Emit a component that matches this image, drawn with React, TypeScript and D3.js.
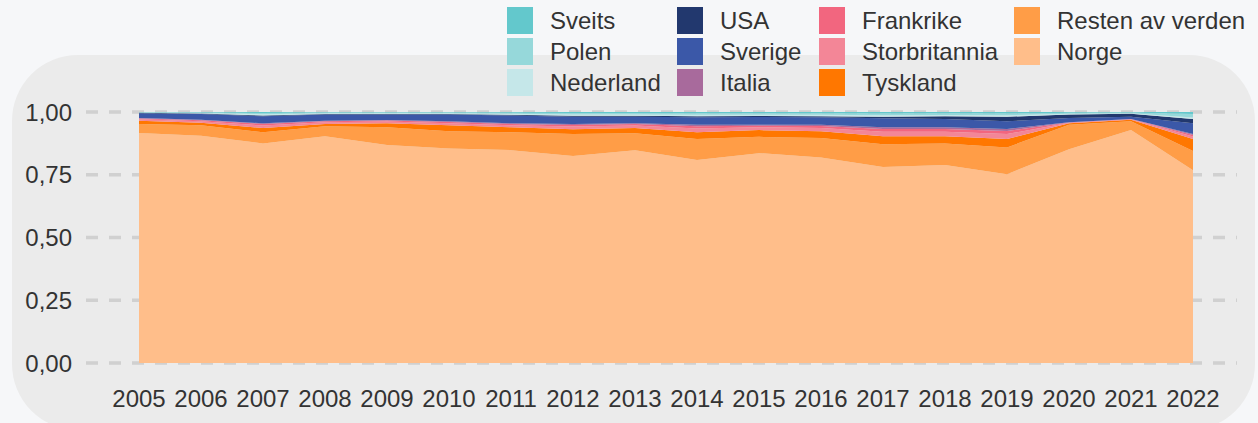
import React, { useRef, useEffect } from 'react';
import * as d3 from 'd3';

// Years on the x axis
const years = [2005, 2006, 2007, 2008, 2009, 2010, 2011, 2012, 2013, 2014, 2015, 2016, 2017, 2018, 2019, 2020, 2021, 2022];

// Shares per country (stacked from bottom: Norge first)
const norge = [0.916, 0.905, 0.875, 0.903, 0.869, 0.855, 0.848, 0.825, 0.848, 0.809, 0.836, 0.819, 0.781, 0.789, 0.752, 0.852, 0.928, 0.768];
const resten = [0.036, 0.042, 0.044, 0.040, 0.070, 0.068, 0.071, 0.087, 0.067, 0.083, 0.065, 0.077, 0.091, 0.086, 0.107, 0.097, 0.035, 0.077];
const tyskland = [0.013, 0.010, 0.017, 0.009, 0.016, 0.024, 0.020, 0.019, 0.021, 0.027, 0.027, 0.027, 0.031, 0.028, 0.033, 0.006, 0.006, 0.047];
const storbritannia = [0.006, 0.006, 0.010, 0.007, 0.007, 0.008, 0.008, 0.011, 0.010, 0.015, 0.011, 0.013, 0.018, 0.018, 0.020, 0.002, 0.002, 0.010];
const frankrike = [0.003, 0.004, 0.006, 0.004, 0.004, 0.005, 0.005, 0.006, 0.006, 0.009, 0.006, 0.008, 0.011, 0.011, 0.012, 0.001, 0.001, 0.006];
const italia = [0.002, 0.002, 0.003, 0.002, 0.002, 0.003, 0.003, 0.004, 0.003, 0.006, 0.004, 0.005, 0.007, 0.007, 0.008, 0.001, 0.000, 0.004];
const sverige = [0.019, 0.023, 0.028, 0.025, 0.022, 0.027, 0.031, 0.029, 0.026, 0.030, 0.031, 0.030, 0.036, 0.033, 0.031, 0.017, 0.009, 0.043];
const usa = [0.002, 0.002, 0.003, 0.002, 0.002, 0.002, 0.003, 0.004, 0.004, 0.004, 0.004, 0.004, 0.006, 0.011, 0.018, 0.014, 0.012, 0.017];
const nederland = [0.001, 0.002, 0.005, 0.003, 0.003, 0.003, 0.004, 0.005, 0.005, 0.006, 0.005, 0.006, 0.006, 0.005, 0.006, 0.003, 0.002, 0.006];
const polen = [0.001, 0.002, 0.005, 0.003, 0.003, 0.003, 0.004, 0.006, 0.006, 0.006, 0.006, 0.006, 0.007, 0.007, 0.007, 0.004, 0.003, 0.014];
const sveits = [0.001, 0.002, 0.004, 0.002, 0.002, 0.002, 0.003, 0.004, 0.004, 0.005, 0.005, 0.005, 0.006, 0.005, 0.006, 0.003, 0.002, 0.008];

const yTicks = [0, 0.25, 0.5, 0.75, 1];

// bottom -> top
const series = [
  { name: 'Norge', values: norge, color: '#ffbe8a' },
  { name: 'Resten av verden', values: resten, color: '#ff9d47' },
  { name: 'Tyskland', values: tyskland, color: '#ff7700' },
  { name: 'Storbritannia', values: storbritannia, color: '#f38697' },
  { name: 'Frankrike', values: frankrike, color: '#f2667f' },
  { name: 'Italia', values: italia, color: '#a86a9c' },
  { name: 'Sverige', values: sverige, color: '#3b58a8' },
  { name: 'USA', values: usa, color: '#22386e' },
  { name: 'Nederland', values: nederland, color: '#c5e7e9' },
  { name: 'Polen', values: polen, color: '#96d8da' },
  { name: 'Sveits', values: sveits, color: '#63c8cc' },
];

// legend order (column-major, 3 rows)
const legendOrder = ['Sveits', 'Polen', 'Nederland', 'USA', 'Sverige', 'Italia', 'Frankrike', 'Storbritannia', 'Tyskland', 'Resten av verden', 'Norge'];

const W = 1258;
const H = 423;
const FONT = '"Liberation Sans", Arial, sans-serif';

const Chart = () => {
  const svgRef = useRef<SVGSVGElement>(null);

  useEffect(() => {
    if (!svgRef.current) return;
    const svg = d3.select(svgRef.current);
    svg.selectAll('*').remove();

    // page + panel background
    svg.append('rect').attr('width', W).attr('height', H).attr('fill', '#f6f7f9');
    svg.append('rect')
      .attr('x', 12).attr('y', 55)
      .attr('width', 1243).attr('height', 375)
      .attr('rx', 66).attr('ry', 66)
      .attr('fill', '#ebebeb');

    const x = d3.scaleLinear().domain([2005, 2022]).range([139, 1193]);
    const y = d3.scaleLinear().domain([0, 1]).range([363, 112]);

    // gridlines (behind the areas)
    svg.append('g')
      .selectAll('line')
      .data(yTicks)
      .enter().append('line')
      .attr('x1', 86).attr('x2', 1237)
      .attr('y1', d => y(d)).attr('y2', d => y(d))
      .attr('stroke', '#d0d0d0')
      .attr('stroke-width', 3.5)
      .attr('stroke-dasharray', '12,11');

    // stacked areas
    const rows = years.map((yr, i) => {
      const r: { [k: string]: number } = { year: yr };
      series.forEach(s => { r[s.name] = s.values[i]; });
      return r;
    });
    const stack = d3.stack<any>()
      .keys(series.map(s => s.name))
      .offset(d3.stackOffsetExpand);
    const layers = stack(rows);

    const area = d3.area<any>()
      .x(d => x(d.data.year))
      .y0(d => y(d[0]))
      .y1(d => y(d[1]));

    svg.append('g')
      .selectAll('path')
      .data(layers)
      .enter().append('path')
      .attr('d', d => area(d) as string)
      .attr('fill', (d, i) => series[i].color);

    // y axis labels
    const fmt = d3.format('.2f');
    svg.append('g')
      .selectAll('text')
      .data(yTicks)
      .enter().append('text')
      .attr('x', 72)
      .attr('y', d => y(d) + 8.5)
      .attr('text-anchor', 'end')
      .style('font-family', FONT)
      .style('font-size', '24px')
      .style('fill', '#333')
      .text(d => fmt(d).replace('.', ','));

    // x axis labels
    svg.append('g')
      .selectAll('text')
      .data(years)
      .enter().append('text')
      .attr('x', d => x(d))
      .attr('y', 407)
      .attr('text-anchor', 'middle')
      .style('font-family', FONT)
      .style('font-size', '24px')
      .style('fill', '#333')
      .text(d => String(d));

    // legend
    const colX = [507, 677, 819, 1014];
    const rowY = [7, 38, 69];
    const legend = svg.append('g');
    legendOrder.forEach((name, i) => {
      const s = series.find(t => t.name === name)!;
      const cx = colX[Math.floor(i / 3)];
      const ry = rowY[i % 3];
      legend.append('rect')
        .attr('x', cx).attr('y', ry)
        .attr('width', 26).attr('height', 27)
        .attr('fill', s.color);
      legend.append('text')
        .attr('x', cx + 43)
        .attr('y', ry + 22)
        .style('font-family', FONT)
        .style('font-size', '24px')
        .style('fill', '#333')
        .text(name);
    });
  }, []);

  return <svg ref={svgRef} width={W} height={H} style={{ display: 'block' }} />;
};

const App = () => (
  <div style={{ position: 'absolute', left: 0, top: 0 }}>
    <Chart />
  </div>
);

export default App;
